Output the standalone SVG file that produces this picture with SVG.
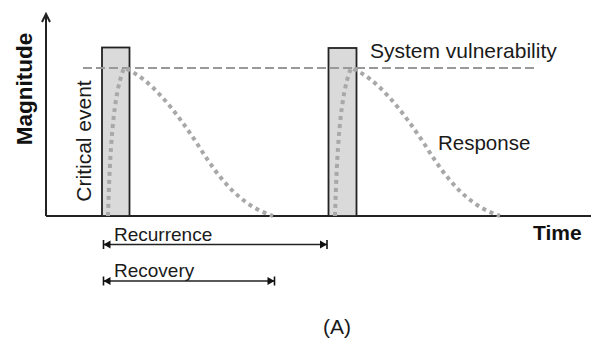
<svg xmlns="http://www.w3.org/2000/svg" width="591" height="345" viewBox="0 0 591 345">
<defs>
<style>
.ax{stroke:#222;stroke-width:2;fill:none}
.ev{fill:#dadada;stroke:#222;stroke-width:1.8}
.thr{stroke:#999;stroke-width:2;stroke-dasharray:9 4;fill:none}
.resp{stroke:#a8a8a8;stroke-width:4;stroke-dasharray:4 4;fill:none}
.dim{stroke:#222;stroke-width:1.4;fill:none;marker-start:url(#bar);marker-end:url(#bar)}
.t{font-family:"Liberation Sans",Arial,sans-serif;fill:#1a1a1a}
.b{font-weight:bold;fill:#111}
</style>
<marker id="bar" viewBox="-8 -5 10 10" markerWidth="10" markerHeight="10" refX="0" refY="0" markerUnits="userSpaceOnUse" orient="auto-start-reverse">
<path d="M-7,-4 L0,0 L-7,4 Z" fill="#111"/>
<path d="M0,-4.5 L0,4.5" stroke="#111" stroke-width="1.6"/>
</marker>
<path id="curve" d="M108,216 C110,150 113,95 124,68 C150,78 175,110 198,145 C220,180 240,205 273,216"/>
</defs>
<g id="axes">
<path class="ax" d="M46,216 L46,14"/>
<path class="ax" d="M42,22 L46,14 L50,22"/>
<path class="ax" d="M46,216 L591,216"/>
</g>
<g id="event1"><rect class="ev" x="102" y="47.5" width="27.5" height="168.5"/></g>
<g id="event2"><rect class="ev" x="328.5" y="48" width="28" height="168"/></g>
<g id="vulnerability">
<path class="thr" d="M83,68 L537,68"/>
<text class="t" x="370" y="58" font-size="21">System vulnerability</text>
</g>
<g id="response1"><use href="#curve" class="resp"/></g>
<g id="response2"><use href="#curve" class="resp" transform="translate(227,0)"/>
<text class="t" x="438" y="150" font-size="20.5">Response</text>
</g>
<g id="connectors">
<path class="dim" d="M103.5,244.5 L327,244.5"/>
<path class="dim" d="M103.5,281 L274.5,281"/>
</g>
<g id="labels">
<text class="t b" font-size="22.5" text-anchor="middle" transform="translate(32,89) rotate(-90)">Magnitude</text>
<text class="t" font-size="21" text-anchor="middle" transform="translate(91,141) rotate(-90)">Critical event</text>
<text class="t b" x="533" y="239.5" font-size="21">Time</text>
<text class="t" x="114" y="240.5" font-size="19">Recurrence</text>
<text class="t" x="114" y="276.5" font-size="19">Recovery</text>
<text class="t" x="337" y="334" font-size="21" text-anchor="middle">(A)</text>
</g>
</svg>
